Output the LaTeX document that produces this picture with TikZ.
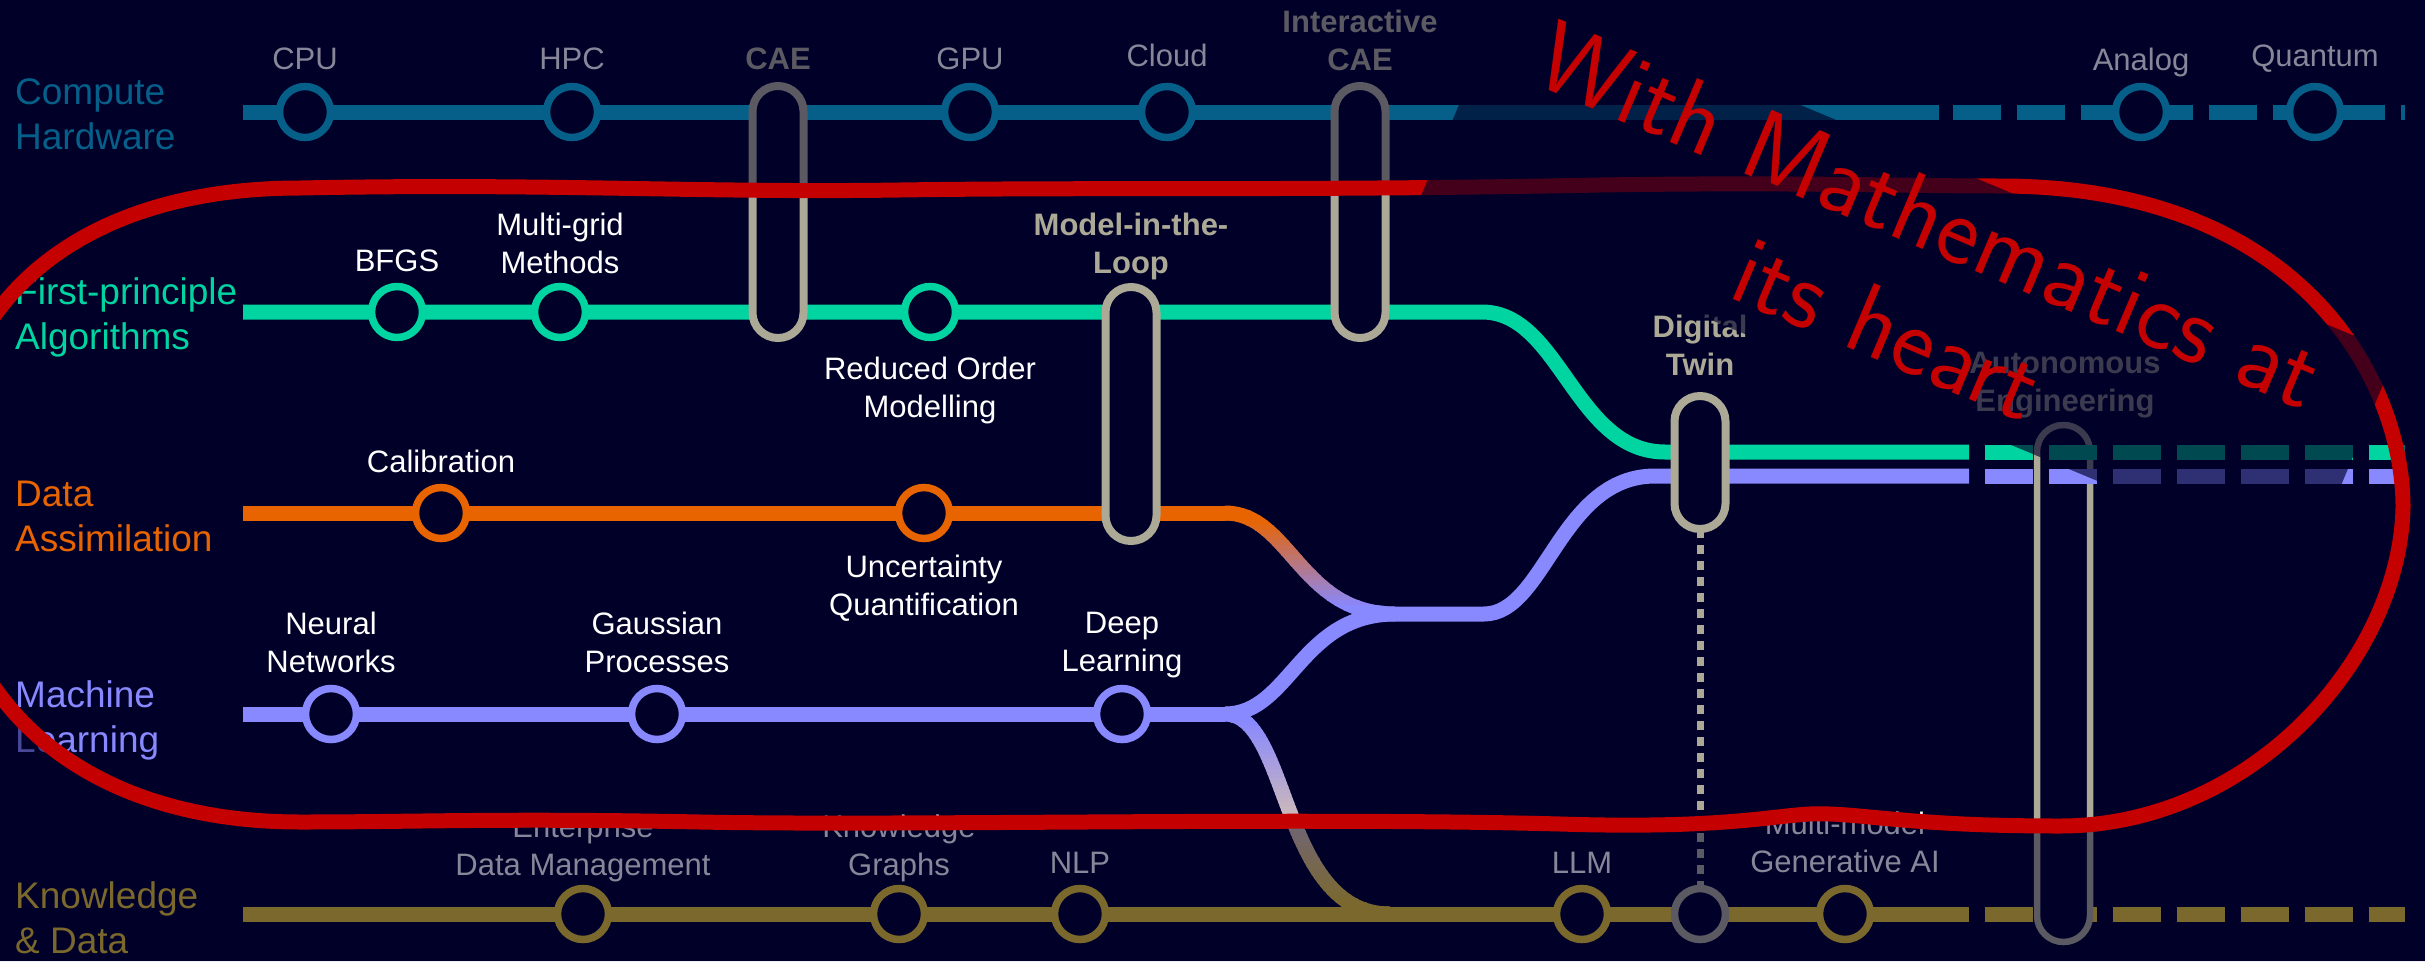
\documentclass[tikz,border=0pt]{standalone}
\usepackage{fontspec}
\setmainfont{Liberation Sans}
\definecolor{bgc}{RGB}{0,0,40}
\definecolor{cComp}{RGB}{10,180,222}
\definecolor{cGreen}{RGB}{0,212,160}
\definecolor{cOrange}{RGB}{232,100,0}
\definecolor{cLav}{RGB}{136,136,255}
\definecolor{cGold}{RGB}{232,198,50}
\definecolor{cBeige}{RGB}{172,169,150}
\definecolor{cBeigeL}{RGB}{215,192,175}
\definecolor{cRed}{RGB}{196,0,0}
\pgfdeclarelayer{back}
\pgfdeclarelayer{klines}
\pgfdeclarelayer{autol}
\pgfdeclarelayer{lines}
\pgfdeclarelayer{over}
\pgfsetlayers{back,klines,autol,lines,main,over}
\tikzset{
  track/.style={line width=15pt},
  dashtrack/.style={line width=15pt, dash pattern=on 48pt off 16pt},
  stn/.style={circle, draw=#1, line width=7.5pt, fill=bgc, minimum size=51pt, inner sep=0pt, outer sep=0pt},
  pill/.style={draw=cBeige, line width=8pt, fill=bgc, minimum width=51pt, rounded corners=25.4pt, inner sep=0pt, outer sep=0pt},
  slabel/.style={font=\fontsize{31}{38}\selectfont, text=white, align=center, inner sep=0pt},
  blabel/.style={font=\fontsize{31}{38}\selectfont\bfseries, text=cBeige, align=center, inner sep=0pt},
  lname/.style={font=\fontsize{37}{45}\selectfont, align=left, anchor=west, inner sep=0pt},
  hand/.style={text=cRed, inner sep=0pt, rotate=-23},
}
\def\looppath{(300,188) .. controls (550,183) and (700,193) .. (900,190)
 .. controls (1100,187) and (1300,191) .. (1600,185)
 .. controls (1800,182) and (1900,186) .. (2000,186)
 .. controls (2300,186) and (2403,380) .. (2403,507)
 .. controls (2400,660) and (2250,826) .. (2060,826)
 .. controls (1900,826) and (1860,812) .. (1810,814)
 .. controls (1770,816) and (1720,829) .. (1560,824)
 .. controls (1300,817) and (900,826) .. (700,822)
 .. controls (500,818) and (420,822) .. (300,822)
 .. controls (80,822) and (-60,700) .. (-60,500)
 .. controls (-60,300) and (80,188) .. (300,188) -- cycle}
\begin{document}
\begin{tikzpicture}[x=1pt,y=-1pt]
\useasboundingbox (0,0) rectangle (2425,961);
\begin{pgfonlayer}{back}
\fill[bgc] (0,0) rectangle (2425,961);
\end{pgfonlayer}

% ---------- stations ----------
\node[stn=cComp] (cpu) at (305,112) {};
\node[stn=cComp] (hpc) at (572,112) {};
\node[stn=cComp] (gpu) at (970,112) {};
\node[stn=cComp] (cloud) at (1167,112) {};
\node[stn=cComp] (analog) at (2141,112) {};
\node[stn=cComp] (quantum) at (2315,112) {};
\node[stn=cGreen] (bfgs) at (397,312) {};
\node[stn=cGreen] (mgrid) at (560,312) {};
\node[stn=cGreen] (rom) at (930,312) {};
\node[stn=cOrange] (calib) at (441,513) {};
\node[stn=cOrange] (uq) at (924,513) {};
\node[stn=cLav] (nn) at (331,714) {};
\node[stn=cLav] (gp) at (657,714) {};
\node[stn=cLav] (dl) at (1122,714) {};
\node[stn=cGold] (edm) at (583,914) {};
\node[stn=cGold] (kgr) at (899,914) {};
\node[stn=cGold] (nlp) at (1080,914) {};
\node[stn=cGold] (llm) at (1582,914) {};
\node[stn=cBeige] (kgray) at (1700,914) {};
\node[stn=cGold] (gai) at (1845,914) {};

% ---------- interchanges ----------
\node[pill, minimum height=252pt] (cae) at (778,212) {};
\node[pill, minimum height=252pt] (icae) at (1360,212) {};
\node[pill, minimum height=254pt] (mitl) at (1131,414) {};
\node[pill, minimum height=133pt] (dt) at (1700,462.5) {};
\begin{pgfonlayer}{autol}
\node[pill, line width=6.5pt, minimum width=53pt, minimum height=517pt, rounded corners=26.4pt] (auto) at (2063.5,683.5) {};
\end{pgfonlayer}

% ---------- coordinates ----------
\coordinate (cs) at (243,112);
\coordinate (cse) at (1939,112);
\coordinate (cd0) at (1953,112);
\coordinate (cde) at (2405,112);
\coordinate (ca1) at (2081,112);
\coordinate (ca2) at (2193,112);
\coordinate (cq1) at (2273,112);
\coordinate (cq2) at (2385,112);
\coordinate (gs) at (243,312);
\coordinate (gc) at (1482,312);
\coordinate (gm) at (1665,452);
\coordinate (gse) at (1969,452);
\coordinate (gd0) at (1985,452);
\coordinate (gde) at (2405,452);
\coordinate (ds) at (243,513);
\coordinate (dc) at (1225,513);
\coordinate (mj) at (1395,614);
\coordinate (mj2) at (1484,614);
\coordinate (ms) at (243,714);
\coordinate (fork) at (1225,714);
\coordinate (pm) at (1655,476);
\coordinate (pse) at (1969,476);
\coordinate (pd0) at (1985,476);
\coordinate (pde) at (2405,476);
\coordinate (ks) at (243,914);
\coordinate (kj) at (1390,914);
\coordinate (kse) at (1969,914);
\coordinate (kd0) at (1985,914);
\coordinate (kde) at (2405,914);

% ---------- tracks ----------
\begin{pgfonlayer}{klines}
\draw[track, cGold] (ks) -- (edm) -- (kgr) -- (nlp) -- (llm) -- (kgray) -- (gai) -- (kse);
\draw[dashtrack, cGold] (kd0) -- (kde);
\end{pgfonlayer}
\begin{pgfonlayer}{lines}
\draw[track, cComp] (cs) -- (cpu) -- (hpc) -- (gpu) -- (cloud) -- (cse);
\draw[dashtrack, cComp] (cd0) -- (cde);
\draw[track, cComp] (ca1) -- (analog) -- (ca2);
\draw[track, cComp] (cq1) -- (quantum) -- (cq2);
\draw[track, cGreen] (gs) -- (bfgs) -- (mgrid) -- (rom) -- (gc) .. controls (1560,312) and (1575,452) .. (gm) -- (gse);
\draw[dashtrack, cGreen] (gd0) -- (gde);
\draw[track, cOrange] (ds) -- (calib) -- (uq) -- (dc);
\draw[track, cLav] (ms) -- (nn) -- (gp) -- (dl) -- (fork);
\draw[track, cLav] (fork) .. controls (1290,714) and (1300,614) .. (mj) -- (mj2) .. controls (1545,614) and (1560,476) .. (pm) -- (pse);
\draw[dashtrack, cLav] (pd0) -- (pde);
% orange -> lavender branch
\foreach \i in {0,...,23}{
  \pgfmathsetmacro{\yy}{505+5*\i}
  \pgfmathsetmacro{\pp}{max(0,min(100,100*(607-(\yy+2.5))/87))}
  \colorlet{gcol}{cOrange!\pp!cLav}
  \begin{scope}
    \clip (1200,\yy) rectangle (1420,\yy+5.6);
    \draw[track, gcol] (dc) .. controls (1290,513) and (1300,614) .. (mj);
  \end{scope}
}
% lavender -> gold branch
\foreach \i in {0,...,30}{
  \pgfmathsetmacro{\yy}{706+4*\i}
  \pgfmathsetmacro{\pp}{max(0,min(100,100*(830-(\yy+2))/110))}
  \colorlet{gcol}{cLav!\pp!cBeigeL}
  \begin{scope}
    \clip (1200,\yy) rectangle (1420,\yy+4.6);
    \draw[track, gcol] (fork) .. controls (1290,714) and (1280,914) .. (kj);
  \end{scope}
}
\foreach \i in {0,...,22}{
  \pgfmathsetmacro{\yy}{830+4*\i}
  \pgfmathsetmacro{\pp}{max(0,min(100,100*(905-(\yy+2))/75))}
  \colorlet{gcol}{cBeigeL!\pp!cGold}
  \begin{scope}
    \clip (1200,\yy) rectangle (1420,\yy+4.6);
    \draw[track, gcol] (fork) .. controls (1290,714) and (1280,914) .. (kj);
  \end{scope}
}
\draw[cBeige, line width=7pt, dash pattern=on 9pt off 7pt] (dt) -- (kgray);
\end{pgfonlayer}

% ---------- line names ----------
\node[lname, text=cComp] (n-comp) at (15,114) {Compute\\Hardware};
\node[lname, text=cGreen] (n-fp) at (15,317) {First-principle\\Algorithms};
\node[lname, text=cOrange] (n-da) at (15,516) {Data\\Assimilation};
\node[lname, text=cLav] (n-ml) at (15,720) {Machine\\Learning};
\node[lname, text=cGold] (n-kd) at (15,918) {Knowledge\\\& Data};

% ---------- station labels ----------
\node[slabel] (l-cpu) at (305,59) {CPU};
\node[slabel] (l-hpc) at (572,59) {HPC};
\node[blabel] (l-cae) at (778,59) {CAE};
\node[slabel] (l-gpu) at (970,59) {GPU};
\node[slabel] (l-cloud) at (1167,55) {Cloud};
\node[blabel] (l-icae) at (1360,40) {Interactive\\CAE};
\node[slabel] (l-analog) at (2141,62) {Analog};
\node[slabel] (l-quantum) at (2315,59) {Quantum};
\node[slabel] (l-bfgs) at (397,261) {BFGS};
\node[slabel] (l-mg) at (560,243) {Multi-grid\\Methods};
\node[blabel] (l-mitl) at (1131,246) {Model-in-the-\\Loop};
\node[slabel] (l-rom) at (930,390) {Reduced Order\\Modelling};
\node[slabel] (l-calib) at (441,461) {Calibration};
\node[slabel] (l-uq) at (924,588) {Uncertainty\\Quantification};
\node[slabel] (l-nn) at (331,642) {Neural\\Networks};
\node[slabel] (l-gp) at (657,642) {Gaussian\\Processes};
\node[slabel] (l-dl) at (1122,645) {Deep\\Learning};
\node[blabel] (l-dt) at (1700,345) {Digital\\Twin};
\node[blabel] (l-auto) at (2065,385) {Autonomous\\Engineering};
\node[slabel] (l-edm) at (583,848) {Enterprise\\Data Management};
\node[slabel] (l-kg) at (899,848) {Knowledge\\Graphs};
\node[slabel] (l-nlp) at (1080,862.5) {NLP};
\node[slabel] (l-llm) at (1582,862.5) {LLM};
\node[slabel] (l-gai) at (1845,842.5) {Multi-model\\Generative AI};

% ---------- overlays ----------
\begin{pgfonlayer}{over}
\fill[bgc, opacity=0.47, even odd rule] (0,0) rectangle (2425,961) \looppath;
\draw[cRed, line width=15pt, line join=round] \looppath;
\fill[bgc, opacity=0.65] (1509.5,-16.2) -- (2396,353.3) -- (2306.6,568.1) -- (1419.8,198.6) -- cycle;
\node[hand, font=\sffamily\fontsize{100}{110}\selectfont\addfontfeatures{LetterSpace=6}] (t1) at (1930,215) {With Mathematics at};
\node[hand, font=\sffamily\fontsize{100}{110}\selectfont\addfontfeatures{LetterSpace=22}] (t2) at (1888,328) {its heart};
\end{pgfonlayer}
\end{tikzpicture}
\end{document}
